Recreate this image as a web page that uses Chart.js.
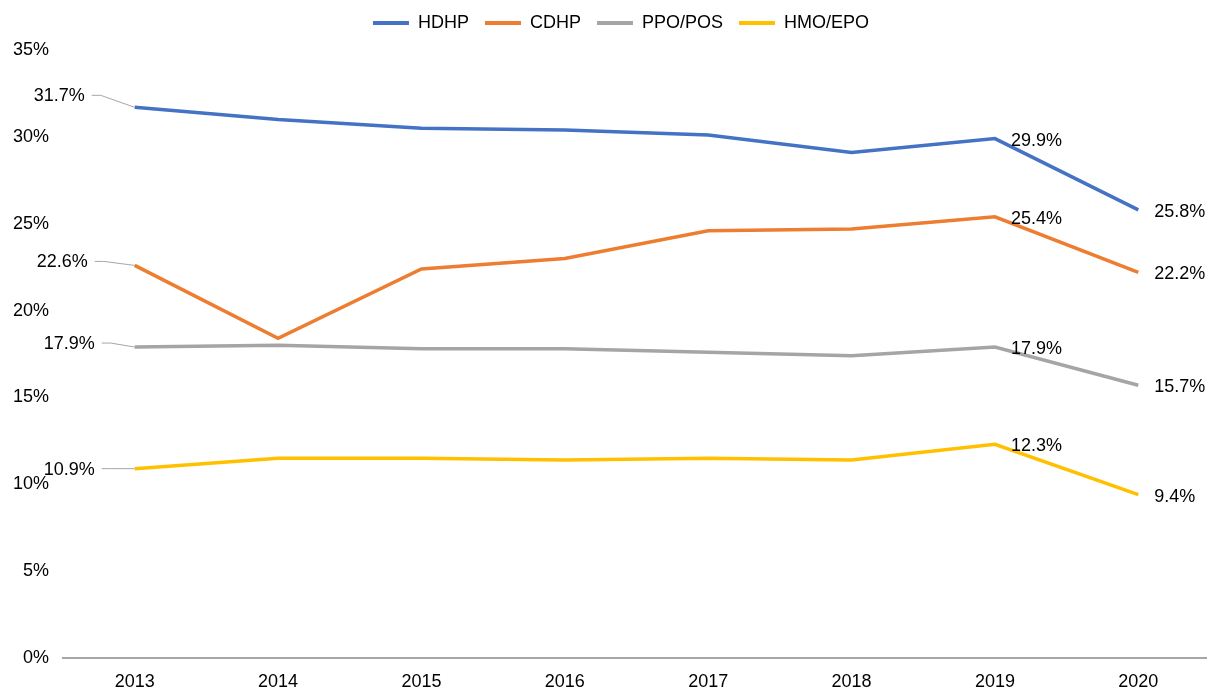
<!DOCTYPE html>
<html>
<head>
<meta charset="utf-8">
<script src="https://cdn.jsdelivr.net/npm/chart.js@4/dist/chart.umd.min.js"></script>
<style>
  html, body { margin: 0; padding: 0; background: #fff; overflow: hidden; }
  #wrap { width: 1207px; height: 690px; overflow: hidden; }
  #wrap canvas { display: block; }
</style>
</head>
<body>
<div id="wrap"><canvas id="planChart" width="1240" height="690"></canvas></div>
<script>
const years = ['2013', '2014', '2015', '2016', '2017', '2018', '2019', '2020'];
const hdhp = [31.7, 31.0, 30.5, 30.4, 30.1, 29.1, 29.9, 25.8];
const cdhp = [22.6, 18.4, 22.4, 23.0, 24.6, 24.7, 25.4, 22.2];
const ppoPos = [17.9, 18.0, 17.8, 17.8, 17.6, 17.4, 17.9, 15.7];
const hmoEpo = [10.9, 11.5, 11.5, 11.4, 11.5, 11.4, 12.3, 9.4];
const yTicks = [0, 5, 10, 15, 20, 25, 30, 35];

const FONT = '"Liberation Sans", Arial, sans-serif';
const FONT_SIZE = 18;

// where the labels of the first point sit (right edge dx, dy from the point)
const firstLabel = [
    { dx: -50, dy: -12 },
    { dx: -47, dy: -4 },
    { dx: -40, dy: -4 },
    { dx: -40, dy: 0 }
];

const pointLabels = {
    id: 'pointLabels',
    afterDatasetsDraw(chart) {
        const ctx = chart.ctx;
        ctx.save();
        ctx.font = FONT_SIZE + 'px ' + FONT;
        ctx.fillStyle = '#000';
        ctx.textBaseline = 'middle';
        chart.data.datasets.forEach((ds, i) => {
            const pts = chart.getDatasetMeta(i).data;
            // first point: label on the left with a leader line
            const p0 = pts[0];
            const off = firstLabel[i];
            const tx = p0.x + off.dx;
            const ty = p0.y + off.dy;
            ctx.textAlign = 'right';
            ctx.fillText(ds.data[0].toFixed(1) + '%', tx, ty + 1);
            ctx.strokeStyle = '#A6A6A6';
            ctx.lineWidth = 1;
            ctx.beginPath();
            ctx.moveTo(tx + 7, ty);
            ctx.lineTo(tx + 16, ty);
            ctx.lineTo(p0.x, p0.y);
            ctx.stroke();
            // last two points: label on the right
            ctx.textAlign = 'left';
            [6, 7].forEach(k => {
                const p = pts[k];
                ctx.fillText(ds.data[k].toFixed(1) + '%', p.x + 16, p.y + 2);
            });
        });
        ctx.restore();
    }
};

// fixed legend band height, legend nudged a bit to the right
const legendTweak = {
    id: 'legendTweak',
    beforeInit(chart) {
        const fit = chart.legend.fit;
        chart.legend.fit = function () {
            fit.call(this);
            this.height = 52;
        };
    },
    afterLayout(chart) {
        chart.legend.left += 11;
        chart.legend.right += 11;
    }
};

function makeSet(label, data, color) {
    return {
        label: label,
        data: data,
        borderColor: color,
        backgroundColor: color,
        borderWidth: 3.5,
        pointRadius: 0,
        pointHoverRadius: 0,
        tension: 0
    };
}

new Chart(document.getElementById('planChart'), {
    type: 'line',
    data: {
        labels: years,
        datasets: [
            makeSet('HDHP', hdhp, '#4472C4'),
            makeSet('CDHP', cdhp, '#ED7D31'),
            makeSet('PPO/POS', ppoPos, '#A5A5A5'),
            makeSet('HMO/EPO', hmoEpo, '#FFC000')
        ]
    },
    options: {
        responsive: false,
        animation: false,
        layout: { padding: { left: 10, right: 30, top: -2, bottom: 0 } },
        plugins: {
            legend: {
                display: true,
                position: 'top',
                labels: {
                    boxWidth: 36,
                    boxHeight: 4,
                    padding: 16,
                    color: '#000',
                    font: { size: FONT_SIZE, family: FONT },
                    generateLabels(chart) {
                        return Chart.defaults.plugins.legend.labels.generateLabels(chart).map(l => {
                            l.lineWidth = 0;
                            return l;
                        });
                    }
                }
            },
            tooltip: { enabled: false }
        },
        scales: {
            x: {
                offset: true,
                grid: { display: false, drawTicks: false },
                border: { display: true, color: '#A6A6A6', width: 2 },
                ticks: { color: '#000', padding: 13, font: { size: FONT_SIZE, family: FONT } },
                afterFit(scale) { scale.height = 32; }
            },
            y: {
                min: 0,
                max: 35,
                grid: { display: false, drawTicks: false },
                border: { display: false },
                afterBuildTicks(scale) {
                    scale.ticks = yTicks.map(v => ({ value: v }));
                },
                ticks: {
                    color: '#000',
                    padding: 14,
                    font: { size: FONT_SIZE, family: FONT },
                    callback: v => v + '%'
                },
                afterFit(scale) { scale.width = 53; }
            }
        }
    },
    plugins: [legendTweak, pointLabels]
});
</script>
</body>
</html>
